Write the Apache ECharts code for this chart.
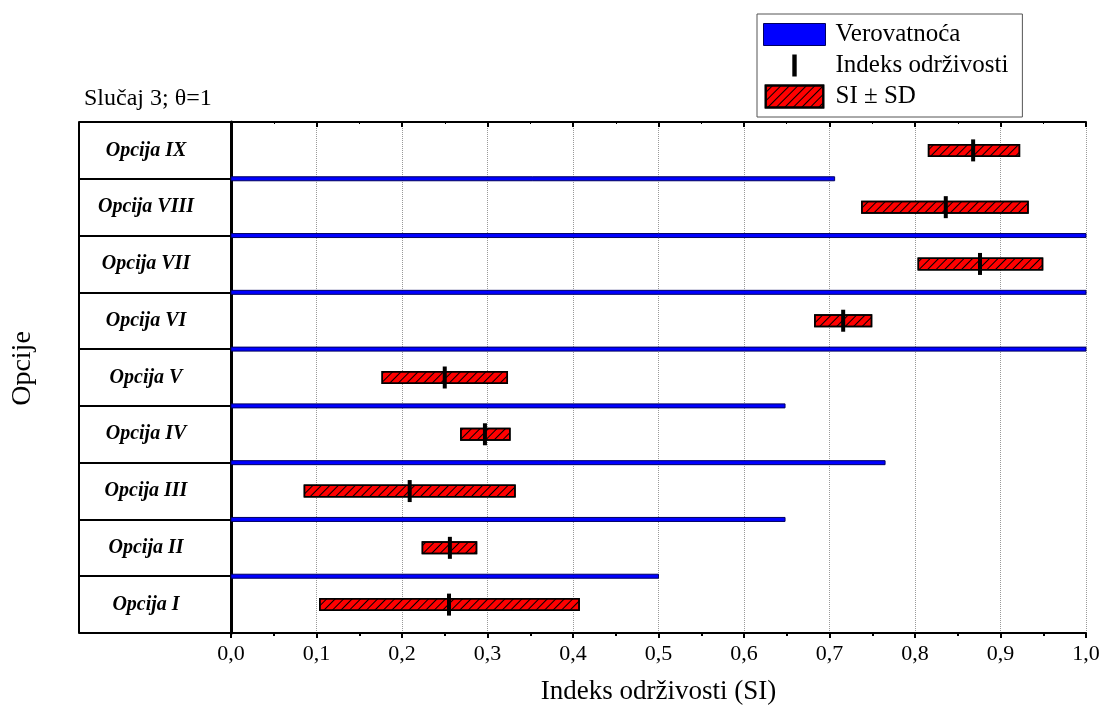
<!DOCTYPE html>
<html>
<head>
<meta charset="utf-8">
<script src="https://cdn.jsdelivr.net/npm/echarts@6/dist/echarts.min.js"></script>
<style>html,body{margin:0;padding:0;background:#fff}#c{width:1104px;height:710px}</style>
</head>
<body>
<div id="c"></div>
<script>
const categories = ['Opcija I','Opcija II','Opcija III','Opcija IV','Opcija V','Opcija VI','Opcija VII','Opcija VIII','Opcija IX'];
const siValues   = [0.255, 0.256, 0.209, 0.297, 0.250, 0.716, 0.876, 0.836, 0.868];
const siLow      = [0.103, 0.223, 0.085, 0.268, 0.176, 0.682, 0.803, 0.737, 0.815];
const siHigh     = [0.408, 0.288, 0.333, 0.327, 0.324, 0.750, 0.950, 0.933, 0.923];
const probability = [0.500, 0.648, 0.765, 0.648, 1.000, 1.000, 1.000, 0.706, null];
const xTicks = [0,0.1,0.2,0.3,0.4,0.5,0.6,0.7,0.8,0.9,1.0];

const FONT = 'Liberation Serif';
const chart = echarts.init(document.getElementById('c'));

const probData = categories.map((c,i)=> probability[i]==null ? null : [probability[i], c]).filter(d=>d);
const tickData = categories.map((c,i)=> [siValues[i], c]);

const fmt = v => v.toFixed(1).replace('.', ',');
const hatch = {symbol:'rect', symbolSize:1, rotation:-Math.PI/4, dashArrayX:[1,0], dashArrayY:[1,4.2], color:'#000'};

chart.setOption({
  animation:false,
  textStyle:{fontFamily:FONT, color:'#000'},
  title:{text:'Slučaj 3; θ=1', left:84, top:87, padding:0, textStyle:{fontFamily:FONT, fontSize:24, fontWeight:'normal', color:'#000'}},
  legend:{
    orient:'vertical', left:757, top:14, padding:[8,14,8,6],
    borderColor:'#555', borderWidth:1, itemGap:6,
    itemWidth:62, itemHeight:22,
    textStyle:{fontFamily:FONT, fontSize:25, color:'#000', padding:[0,0,0,5]},
    data:[
      {name:'Verovatnoća', icon:'rect', itemStyle:{color:'#0000ff', borderColor:'#000060', borderWidth:1}},
      {name:'Indeks održivosti', icon:'path://M0,0H4V20H0Z', itemStyle:{color:'#000'}},
      {name:'SI ± SD', icon:'path://M0,0H55V21H0Z'}
    ]
  },
  grid:{left:231, right:18, top:122, bottom:73},
  xAxis:[{
    type:'value', min:0, max:1, interval:0.1, position:'bottom',
    name:'Indeks održivosti (SI)', nameLocation:'middle', nameGap:45,
    nameTextStyle:{fontFamily:FONT, fontSize:27, color:'#000'},
    axisLine:{show:true, onZero:false, lineStyle:{color:'#000', width:2}},
    axisTick:{show:true, length:5, lineStyle:{color:'#000', width:2}},
    minorTick:{show:true, splitNumber:2, length:3, lineStyle:{color:'#000', width:2}},
    axisLabel:{fontFamily:FONT, fontSize:22, color:'#000', margin:10, formatter:fmt},
    splitLine:{show:true, lineStyle:{color:'#999', type:'dotted', width:1}}
  },{
    type:'value', min:0, max:1, interval:0.1, position:'top',
    axisLine:{show:true, onZero:false, lineStyle:{color:'#000', width:2}},
    axisTick:{show:true, inside:true, length:5, lineStyle:{color:'#000', width:2}},
    minorTick:{show:true, splitNumber:2, length:2, lineStyle:{color:'#000', width:1}},
    axisLabel:{show:false}, splitLine:{show:false}
  }],
  yAxis:[{
    type:'category', data:categories, position:'left',
    name:'Opcije', nameLocation:'middle', nameGap:194, nameRotate:90,
    nameTextStyle:{fontFamily:FONT, fontSize:28, color:'#000', padding:[0,0,0,18]},
    axisLine:{show:true, lineStyle:{color:'#000', width:2}},
    axisTick:{show:true, length:152, lineStyle:{color:'#000', width:2}},
    axisLabel:{fontFamily:FONT, fontSize:20, fontStyle:'italic', fontWeight:'bold', color:'#000', align:'center', margin:85, padding:[0,0,8,0]},
    splitLine:{show:false}
  },{
    type:'category', data:categories, position:'right',
    axisLine:{show:true, lineStyle:{color:'#000', width:3}},
    axisTick:{show:false}, axisLabel:{show:false}
  },{
    type:'category', data:categories, position:'left', offset:152,
    axisLine:{show:true, lineStyle:{color:'#000', width:2}},
    axisTick:{show:false}, axisLabel:{show:false}
  }],
  series:[
    {
      name:'base', type:'bar', stack:'sd', barWidth:13, silent:true,
      itemStyle:{color:'transparent'},
      data:siLow
    },
    {
      name:'SI ± SD', type:'bar', stack:'sd', barWidth:13,
      itemStyle:{color:'#ff0000', borderColor:'#000', borderWidth:1.5, decal:hatch},
      data:siHigh.map((h,i)=> +(h - siLow[i]).toFixed(3))
    },
    {
      name:'Verovatnoća', type:'custom', z:5,
      encode:{x:0, y:1},
      itemStyle:{color:'#0000ff'},
      renderItem:function(params, api){
        const p0 = api.coord([0, api.value(1)]);
        const p1 = api.coord([api.value(0), api.value(1)]);
        const bandH = api.size([0,1])[1];
        const yTop = p0[1] - bandH/2;
        return {type:'rect', shape:{x:p0[0], y:yTop-2, width:p1[0]-p0[0], height:4},
                style:{fill:'#0000ff', stroke:'#000060', lineWidth:1}};
      },
      data:probData
    },
    {
      name:'Indeks održivosti', type:'custom', z:6,
      encode:{x:0, y:1},
      itemStyle:{color:'#000'},
      renderItem:function(params, api){
        const p = api.coord([api.value(0), api.value(1)]);
        return {type:'rect', shape:{x:p[0]-2, y:p[1]-11, width:4, height:22}, style:{fill:'#000'}};
      },
      data:tickData
    }
  ]
});
</script>
</body>
</html>
